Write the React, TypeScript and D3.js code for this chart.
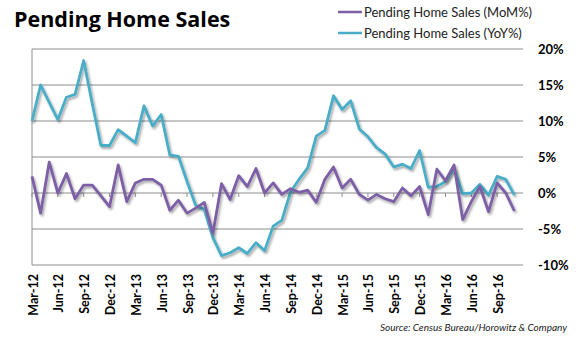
import React from "react";
import * as d3 from "d3";

const startYear = 2012;
const startMonth = 2; // March (0-based)
const monthNames = ["Jan","Feb","Mar","Apr","May","Jun","Jul","Aug","Sep","Oct","Nov","Dec"];

const momValues = [
  2.3, -2.8, 4.3, 0.0, 2.7, -0.8, 1.1, 1.1, -0.4, -1.9,
  3.9, -1.2, 1.4, 1.9, 1.9, 1.1, -2.4, -1.0, -2.8, -2.1,
  -1.3, -5.6, 1.3, -0.9, 2.4, 0.9, 3.4, 0.0, 1.4, -0.2,
  0.6, 0.1, 0.4, -1.3, 1.9, 3.6, 0.7, 1.9, -0.2, -1.0,
  -0.2, -0.8, -1.2, 0.7, -0.4, 0.9, -3.0, 3.3, 1.7, 3.9,
  -3.7, -1.2, 0.9, -2.6, 1.4, 0.0, -2.5,
];

const yoyValues = [
  10.0, 15.0, 12.6, 10.2, 13.3, 13.7, 18.4, 12.4, 6.6, 6.6,
  8.8, 7.9, 7.0, 12.1, 9.3, 10.9, 5.3, 5.1, 1.6, -1.7,
  -2.3, -6.2, -8.7, -8.3, -7.6, -8.4, -6.9, -8.0, -4.6, -3.8,
  0.1, 1.9, 3.5, 7.9, 8.7, 13.5, 11.6, 12.8, 8.9, 7.8,
  6.3, 5.4, 3.6, 4.0, 3.4, 5.9, 0.8, 0.9, 1.6, 3.4,
  -0.1, 0.0, 1.2, -0.3, 2.3, 1.9, -0.3,
];

const categories = momValues.map((_, i) => {
  const m = startMonth + i;
  const y = startYear + Math.floor(m / 12);
  return `${monthNames[m % 12]}-${String(y % 100).padStart(2, "0")}`;
});

const yTicks = [20, 15, 10, 5, 0, -5, -10];

const seriesNames = ["Pending Home Sales (MoM%)", "Pending Home Sales (YoY%)"];
const seriesColors = ["#7d5fa6", "#4aadc7"];

export default function App() {
  const W = 576;
  const H = 337;
  const x = d3.scaleLinear().domain([0, 57]).range([32, 523]);
  const y = d3.scaleLinear().domain([-10, 20]).range([265, 49]);
  const line = d3
    .line<number>()
    .x((_, i) => x(i))
    .y((d) => y(d));

  const labelIdx = categories.map((_, i) => i).filter((i) => i % 3 === 0);
  const font = "Lato, 'Open Sans', sans-serif";

  return (
    <svg
      width={W}
      height={H}
      style={{ position: "absolute", left: 0, top: 0, background: "#fff" }}
    >
      <defs>
        <filter id="shadow" x="-10%" y="-10%" width="120%" height="130%">
          <feDropShadow dx="1.5" dy="2" stdDeviation="1.2" floodColor="#000" floodOpacity="0.35" />
        </filter>
      </defs>
      <text x={14} y={27} fontFamily="'Open Sans', sans-serif" fontWeight={700} fontSize={21.5} fill="#000">
        Pending Home Sales
      </text>

      {seriesNames.map((n, k) => (
        <g key={n}>
          <line x1={338} x2={362} y1={12 + k * 21} y2={12 + k * 21} stroke={seriesColors[k]} strokeWidth={2.5} />
          <text x={364} y={16.5 + k * 21} fontFamily={font} fontSize={13} fill="#222">
            {n}
          </text>
        </g>
      ))}

      {yTicks.map((t) => (
        <g key={t}>
          <line x1={32} x2={523} y1={y(t)} y2={y(t)} stroke="#8c8c8c" strokeWidth={1} />
          <text x={538} y={y(t)} dy="0.36em" fontFamily={font} fontWeight={700} fontSize={13} fill="#000">
            {`${t}%`}
          </text>
        </g>
      ))}
      <line x1={32} x2={32} y1={49} y2={265} stroke="#8c8c8c" strokeWidth={1} />

      {labelIdx.map((i) => (
        <line key={"t" + i} x1={x(i)} x2={x(i)} y1={y(0)} y2={y(0) + 4} stroke="#8c8c8c" strokeWidth={1} />
      ))}

      <path d={line(yoyValues) || ""} fill="none" stroke={seriesColors[1]} strokeWidth={2.8} strokeLinejoin="round" filter="url(#shadow)" />
      <path d={line(momValues) || ""} fill="none" stroke={seriesColors[0]} strokeWidth={2.8} strokeLinejoin="round" filter="url(#shadow)" />

      {labelIdx.map((i) => (
        <text
          key={"l" + i}
          transform={`translate(${x(i) + 1},${274}) rotate(-90)`}
          dy="0.36em"
          textAnchor="end"
          fontFamily={font}
          fontWeight={700}
          fontSize={12.5}
          fill="#000"
        >
          {categories[i]}
        </text>
      ))}

      <text x={567} y={331} textAnchor="end" fontFamily={font} fontStyle="italic" fontSize={10} fill="#222">
        Source: Census Bureau/Horowitz &amp; Company
      </text>
    </svg>
  );
}
